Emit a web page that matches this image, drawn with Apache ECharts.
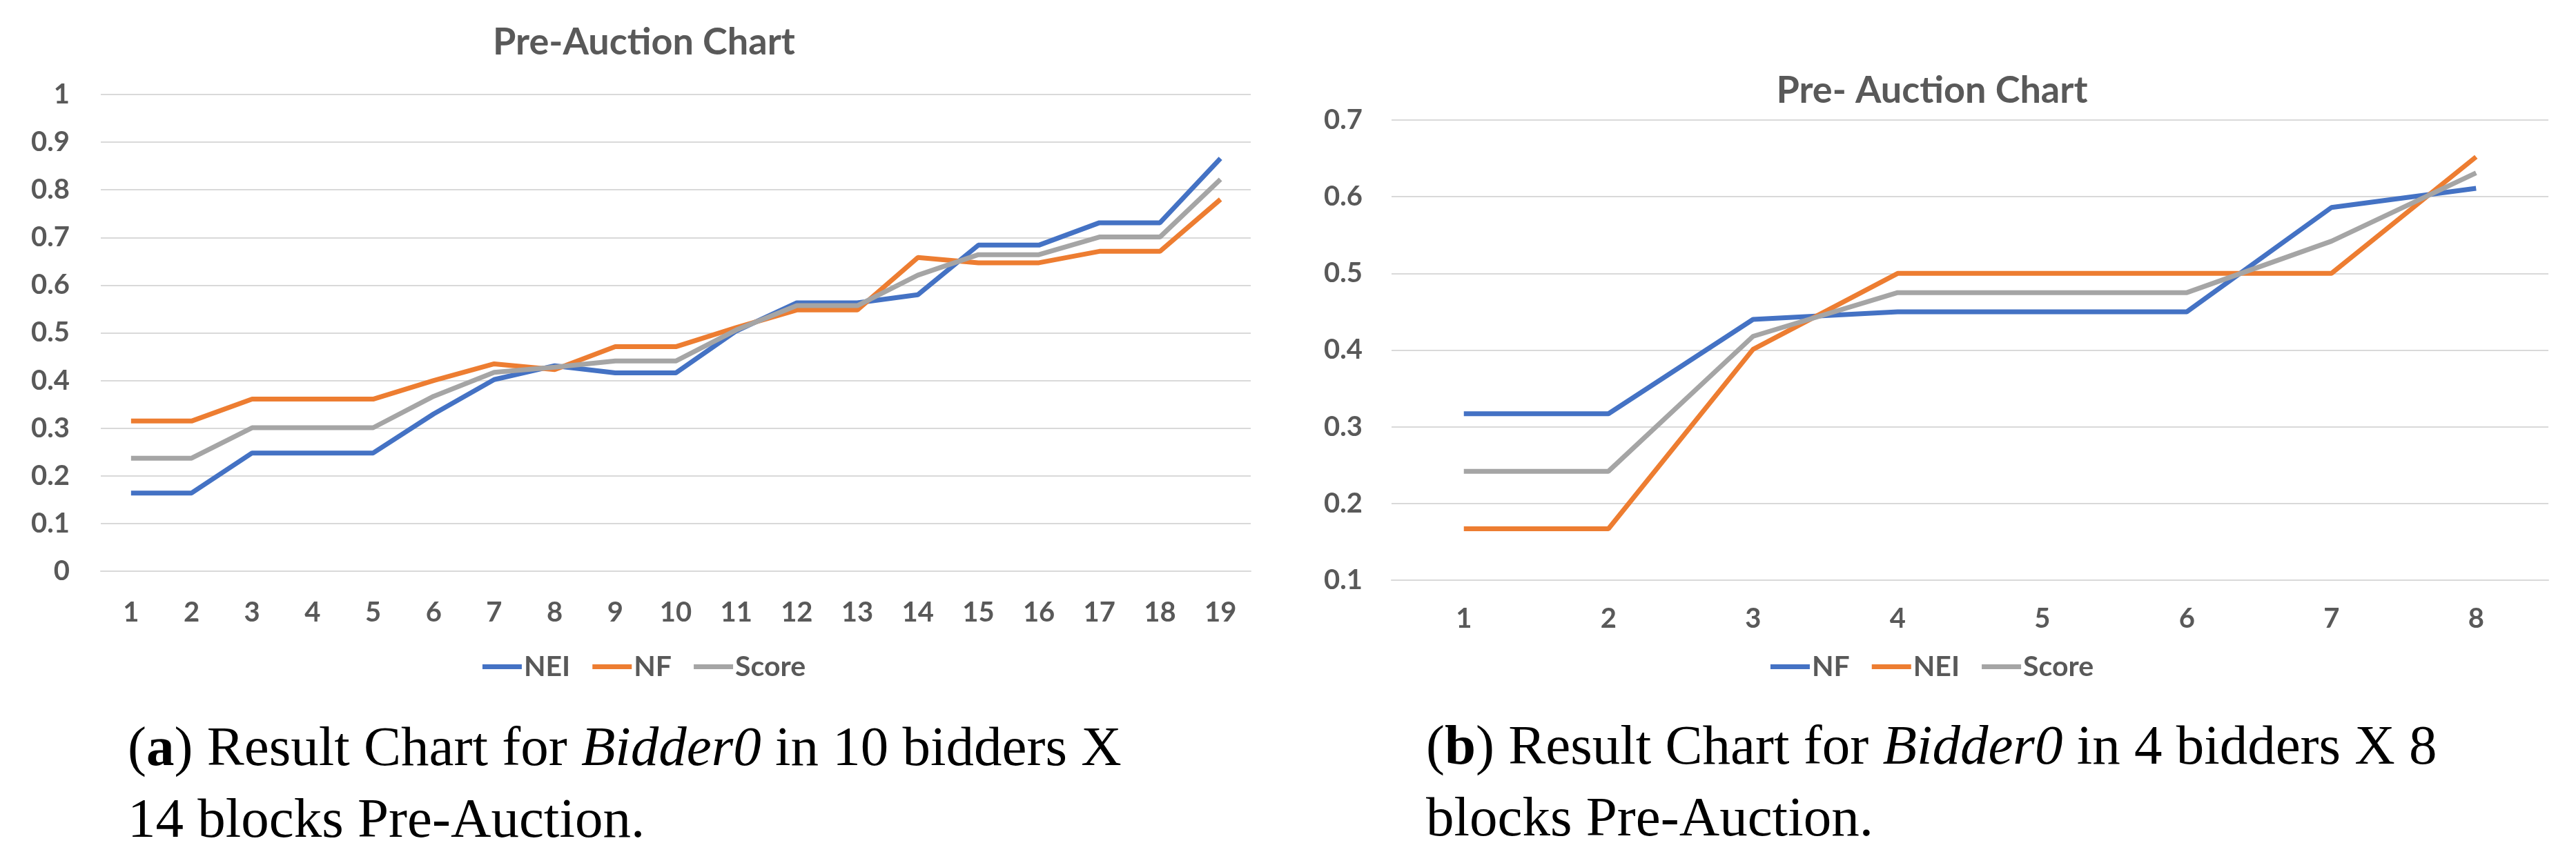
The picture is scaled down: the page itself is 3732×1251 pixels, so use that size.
<!DOCTYPE html>
<html>
<head>
    <meta charset="utf-8">
    <title>Pre-Auction Charts</title>
    <script src="https://cdn.jsdelivr.net/npm/echarts@6/dist/echarts.min.js"></script>
    <style>
        body { margin: 0; background: #fff; }
        .chart { position: absolute; top: 0; width: 1866px; height: 1020px; }
        .cap {
            position: absolute;
            font-family: "Liberation Serif", serif;
            font-size: 81px;
            line-height: 104px;
            color: #000;
            white-space: nowrap;
        }
    </style>
</head>
<body>

    <div id="chartA" class="chart" style="left:0px;"></div>
    <div id="chartB" class="chart" style="left:1866px;"></div>

    <div class="cap" style="left:185px; top:1030px;">(<b>a</b>) Result Chart for <i>Bidder0</i> in 10 bidders X<br>14 blocks Pre-Auction.</div>
    <div class="cap" style="left:2066px; top:1028px;">(<b>b</b>) Result Chart for <i>Bidder0</i> in 4 bidders X 8<br>blocks Pre-Auction.</div>

    <script type="text/javascript">

        // chart (a): 10 bidders x 14 blocks
        var catsA = ['1', '2', '3', '4', '5', '6', '7', '8', '9', '10', '11', '12', '13', '14', '15', '16', '17', '18', '19'];
        var neiA = [0.164, 0.164, 0.248, 0.248, 0.248, 0.330, 0.402, 0.431, 0.416, 0.416, 0.504, 0.563, 0.563, 0.580, 0.684, 0.684, 0.731, 0.731, 0.866];
        var nfA = [0.315, 0.315, 0.361, 0.361, 0.361, 0.400, 0.435, 0.423, 0.471, 0.471, 0.511, 0.548, 0.548, 0.658, 0.647, 0.647, 0.671, 0.671, 0.780];
        var scoreA = [0.237, 0.237, 0.301, 0.301, 0.301, 0.367, 0.417, 0.428, 0.441, 0.441, 0.506, 0.557, 0.557, 0.621, 0.664, 0.664, 0.701, 0.701, 0.822];

        // chart (b): 4 bidders x 8 blocks
        var catsB = ['1', '2', '3', '4', '5', '6', '7', '8'];
        var nfB = [0.317, 0.317, 0.440, 0.450, 0.450, 0.450, 0.586, 0.611];
        var neiB = [0.167, 0.167, 0.401, 0.500, 0.500, 0.500, 0.500, 0.652];
        var scoreB = [0.242, 0.242, 0.418, 0.475, 0.475, 0.475, 0.542, 0.631];

        var BLUE = '#4472C4', ORANGE = '#ED7D31', GRAY = '#A5A5A5';
        var TXT = '#595959', GRID = '#D9D9D9';
        var FONT = 'Lato';

        var makeSeries = function (name, data, color) {
            return {
                name: name,
                type: 'line',
                data: data,
                showSymbol: false,
                symbol: 'none',
                color: color,
                lineStyle: { color: color, width: 7 },
                animation: false
            };
        };

        var makeOption = function (cfg) {
            return {
                animation: false,
                textStyle: { fontFamily: FONT },
                title: {
                    text: cfg.title,
                    left: 'center',
                    top: cfg.titleTop,
                    textStyle: { fontFamily: FONT, fontSize: 54, fontWeight: 'bold', color: TXT }
                },
                legend: {
                    bottom: 28,
                    left: 'center',
                    icon: 'rect',
                    itemWidth: 57,
                    itemHeight: 7,
                    itemGap: 32,
                    textStyle: { fontFamily: FONT, fontSize: 41, fontWeight: 'bold', color: TXT, padding: [0, 0, 0, -2] },
                    data: cfg.series.map(function (s) { return s.name; })
                },
                grid: cfg.grid,
                xAxis: {
                    type: 'category',
                    data: cfg.cats,
                    boundaryGap: true,
                    axisLine: { lineStyle: { color: GRID, width: 2 } },
                    axisTick: { show: false },
                    axisLabel: { margin: cfg.xMargin, fontFamily: FONT, fontSize: 40, fontWeight: 'bold', color: TXT }
                },
                yAxis: {
                    type: 'value',
                    min: cfg.yMin,
                    max: cfg.yMax,
                    interval: 0.1,
                    axisLine: { show: false },
                    axisTick: { show: false },
                    splitLine: { lineStyle: { color: GRID, width: 2 } },
                    axisLabel: { margin: cfg.yMargin, fontFamily: FONT, fontSize: 40, fontWeight: 'bold', color: TXT }
                },
                series: cfg.series
            };
        };

        var chartA = echarts.init(document.getElementById('chartA'));
        chartA.setOption(makeOption({
            title: 'Pre-Auction Chart',
            titleTop: 30,
            cats: catsA,
            grid: { left: 146, right: 54, top: 137, bottom: 192 },
            yMin: 0, yMax: 1,
            xMargin: 40, yMargin: 45,
            series: [
                makeSeries('NEI', neiA, BLUE),
                makeSeries('NF', nfA, ORANGE),
                makeSeries('Score', scoreA, GRAY)
            ]
        }));

        var chartB = echarts.init(document.getElementById('chartB'));
        chartB.setOption(makeOption({
            title: 'Pre- Auction Chart',
            titleTop: 100,
            cats: catsB,
            grid: { left: 150, right: 40, top: 174, bottom: 179 },
            yMin: 0.1, yMax: 0.7,
            xMargin: 36, yMargin: 42,
            series: [
                makeSeries('NF', nfB, BLUE),
                makeSeries('NEI', neiB, ORANGE),
                makeSeries('Score', scoreB, GRAY)
            ]
        }));
    </script>
</body>
</html>
